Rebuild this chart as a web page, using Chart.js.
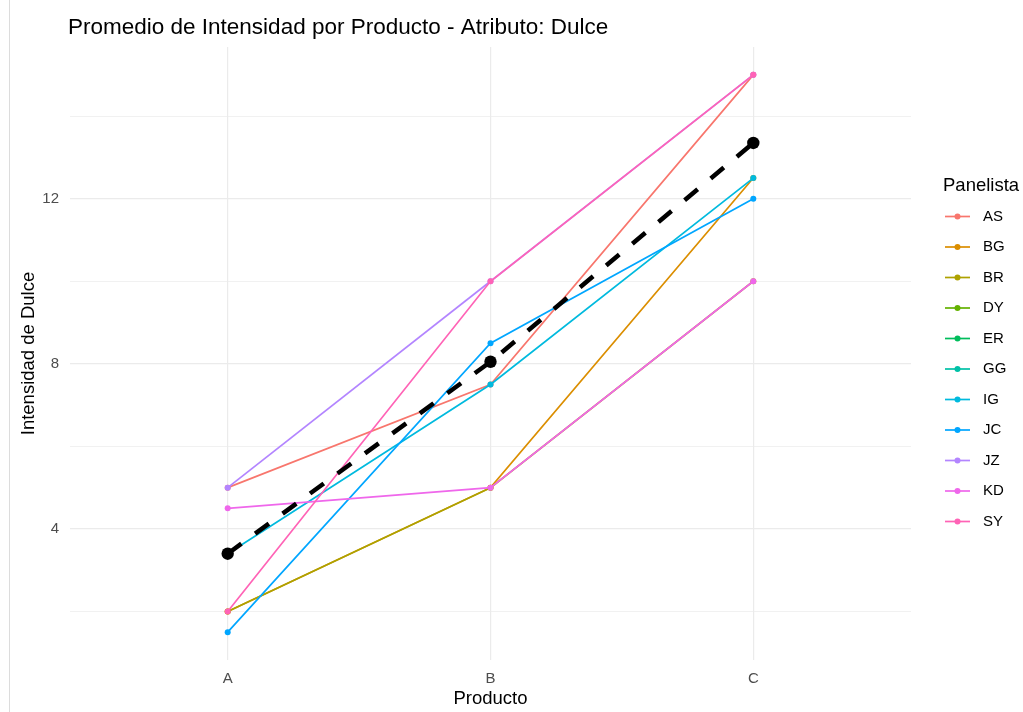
<!DOCTYPE html>
<html lang="es">
<head>
    <meta charset="UTF-8">
    <title>Promedio de Intensidad por Producto - Atributo: Dulce</title>
    <script src="https://cdn.jsdelivr.net/npm/chart.js"></script>
    <style>
        body {
            margin: 0;
            background: #ffffff;
        }

        .wrap {
            position: relative;
            width: 1023px;
            height: 712px;
        }

        /* thin frame line on the left of the screenshot */
        .edge {
            position: absolute;
            left: 9px;
            top: 0;
            width: 1px;
            height: 712px;
            background: #dcdcdc;
        }
    </style>
</head>
<body>
    <div class="wrap">
        <div class="edge"></div>
        <canvas id="chart" width="1023" height="712"></canvas>
    </div>

    <script>
        // Data
        const productos = ['A', 'B', 'C'];
        const panelistas = ['AS', 'BG', 'BR', 'DY', 'ER', 'GG', 'IG', 'JC', 'JZ', 'KD', 'SY'];
        const colores = ['#F8766D', '#DB8E00', '#AEA200', '#64B200', '#00BD5C', '#00C1A7',
                         '#00BADE', '#00A6FF', '#B385FF', '#EF67EB', '#FF63B6'];

        const AS = [5, 7.5, 15];
        const BG = [2, 5, 12.5];
        const BR = [2, 5, 10];
        const DY = [null, null, null];   // not visible in the picture
        const ER = [null, null, null];   // not visible in the picture
        const GG = [null, null, null];   // not visible in the picture
        const IG = [3.4, 7.5, 12.5];
        const JC = [1.5, 8.5, 12];
        const JZ = [5, 10, 15];
        const KD = [4.5, 5, 10];
        const SY = [2, 10, 15];
        const promedio = [3.4, 8.05, 13.35];

        const valores = [AS, BG, BR, DY, ER, GG, IG, JC, JZ, KD, SY];
        const yTicks = [2, 4, 6, 8, 10, 12, 14];
        const yLabels = [4, 8, 12];

        const FONT = "'Liberation Sans', Arial, sans-serif";

        function toPoints(arr) {
            return arr.map((v, i) => ({ x: i, y: v }));
        }

        // later panelists are drawn on top, the mean on top of all
        const datasets = panelistas.map((p, i) => ({
            label: p,
            data: toPoints(valores[i]),
            borderColor: colores[i],
            backgroundColor: colores[i],
            borderWidth: 1.7,
            pointRadius: 3,
            pointBorderWidth: 0,
            order: panelistas.length - i
        }));

        datasets.push({
            label: 'Promedio',
            data: toPoints(promedio),
            borderColor: '#000000',
            backgroundColor: '#000000',
            borderWidth: 4.5,
            borderDash: [17, 17],
            borderCapStyle: 'butt',
            pointRadius: 6.2,
            pointBorderWidth: 0,
            order: 0
        });

        // Title at the left edge of the panel, legend on the right
        const decor = {
            id: 'decor',
            afterDraw(chart) {
                const ctx = chart.ctx;
                const area = chart.chartArea;
                ctx.save();
                ctx.fillStyle = '#000000';
                ctx.textBaseline = 'middle';
                ctx.textAlign = 'left';
                ctx.font = '22.5px ' + FONT;
                ctx.fillText('Promedio de Intensidad por Producto - Atributo: Dulce', area.left - 2, 28);

                ctx.font = '18.5px ' + FONT;
                ctx.fillText('Panelista', 943, 186);

                ctx.font = '15px ' + FONT;
                panelistas.forEach((p, i) => {
                    const y = 216.5 + i * 30.5;
                    ctx.strokeStyle = colores[i];
                    ctx.lineWidth = 1.7;
                    ctx.beginPath();
                    ctx.moveTo(945, y);
                    ctx.lineTo(970, y);
                    ctx.stroke();
                    ctx.fillStyle = colores[i];
                    ctx.beginPath();
                    ctx.arc(957.5, y, 3, 0, Math.PI * 2);
                    ctx.fill();
                    ctx.fillStyle = '#000000';
                    ctx.fillText(p, 983, y);
                });
                ctx.restore();
            }
        };

        new Chart(document.getElementById('chart'), {
            type: 'line',
            data: { datasets: datasets },
            options: {
                responsive: false,
                animation: false,
                layout: {
                    padding: { left: 0, top: 47, right: 112, bottom: 0 }
                },
                plugins: {
                    legend: { display: false },
                    title: { display: false },
                    tooltip: { enabled: false }
                },
                scales: {
                    x: {
                        type: 'linear',
                        min: -0.6,
                        max: 2.6,
                        afterBuildTicks: (scale) => {
                            scale.ticks = productos.map((p, i) => ({ value: i }));
                        },
                        afterFit: (scale) => { scale.height = 52; },
                        border: { display: false },
                        grid: {
                            color: '#EBEBEB',
                            lineWidth: 1.2,
                            drawTicks: false
                        },
                        ticks: {
                            padding: 10,
                            color: '#4D4D4D',
                            font: { family: FONT, size: 15 },
                            callback: (v) => productos[v]
                        },
                        title: {
                            display: true,
                            text: 'Producto',
                            color: '#000000',
                            font: { family: FONT, size: 18.5 },
                            padding: { top: 0, bottom: 2 }
                        }
                    },
                    y: {
                        type: 'linear',
                        min: 0.825,
                        max: 15.675,
                        afterBuildTicks: (scale) => {
                            scale.ticks = yTicks.map(v => ({ value: v }));
                        },
                        afterFit: (scale) => { scale.width = 70; },
                        border: { display: false },
                        grid: {
                            color: '#EBEBEB',
                            lineWidth: (c) => yLabels.includes(c.tick.value) ? 1.2 : 0.7,
                            drawTicks: false
                        },
                        ticks: {
                            padding: 11,
                            color: '#4D4D4D',
                            font: { family: FONT, size: 15 },
                            callback: (v) => yLabels.includes(v) ? String(v) : ''
                        },
                        title: {
                            display: true,
                            text: 'Intensidad de Dulce',
                            color: '#000000',
                            font: { family: FONT, size: 18.5 },
                            padding: { top: 18, bottom: 0 }
                        }
                    }
                }
            },
            plugins: [decor]
        });
    </script>
</body>
</html>
